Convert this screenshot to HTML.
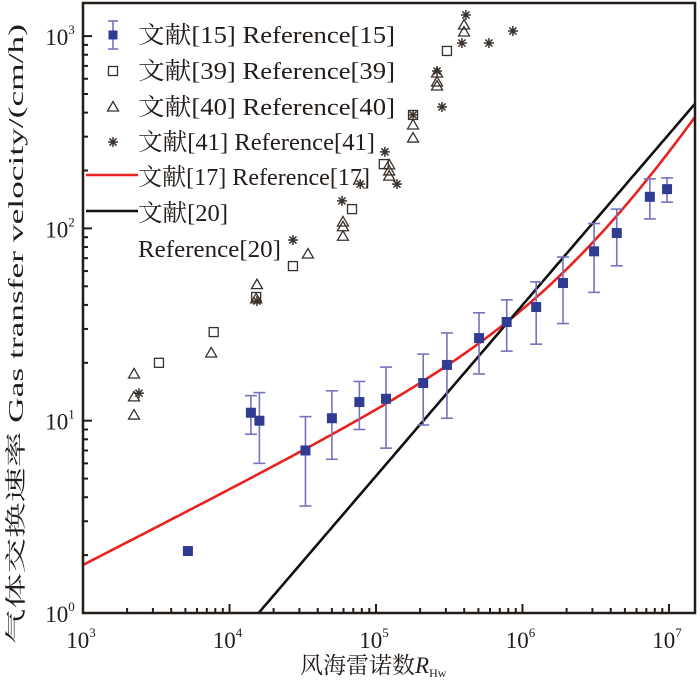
<!DOCTYPE html>
<html><head><meta charset="utf-8"><style>
html,body{margin:0;padding:0;background:#fff;overflow:hidden;width:700px;height:688px;}
svg{display:block;}
svg text{font-family:"Liberation Serif","Noto Serif CJK SC",serif;}
</style></head><body>
<svg id="chart" width="700" height="688" viewBox="0 0 700 688" xmlns="http://www.w3.org/2000/svg" overflow="hidden">
<g id="plot"></g>
</svg>
<script>
const ref15R=[5.2e3,1.4e4,1.6e4,3.3e4,5.0e4,7.7e4,1.17e5,2.1e5,3.05e5,5.05e5,7.8e5,1.24e6,1.89e6,3.08e6,4.4e6,7.4e6,9.7e6];
const ref15V=[2.1,11.0,10.0,7.0,10.3,12.5,13.0,15.7,19.5,26.9,32.6,39,52,76,94.6,146,160];
const ref15Lo=[2.1,8.5,6.0,3.6,6.3,9.0,7.2,9.5,10.3,17.5,23,25,32,46.5,63.9,112,137];
const ref15Hi=[2.1,13.5,14.0,10.5,14.3,16.0,19.0,22.2,28.6,36.4,42.5,52.7,71,106,126,181,183];
const ref39R=[3.3e3,7.8e3,1.52e4,2.71e4,6.86e4,1.13e5,1.79e5,3.05e5];
const ref39V=[20,28.9,44,63.7,126,216,389,837];
const ref40R=[2.23e3,2.23e3,2.23e3,7.5e3,1.54e4,1.52e4,3.43e4,5.95e4,5.95e4,5.95e4,1.23e5,1.23e5,1.23e5,1.79e5,1.79e5,2.61e5,2.61e5,2.61e5,3.99e5,3.99e5];
const ref40V=[17.5,13.3,10.7,22.5,51,43,73.6,108,102,91,214,199,187,345,295,643,577,550,1142,1050];
const ref41R=[2.41e3,1.54e4,2.71e4,5.86e4,7.8e4,1.15e5,1.39e5,1.79e5,2.61e5,2.82e5,4.11e5,3.86e5,5.9e5,8.6e5];
const ref41V=[13.9,41.9,87,139,170,250,170,389,658,428,1288,920,920,1063];
const xTickExp=[3,4,5,6,7];
const yTickExp=[0,1,2,3];
const legendLabels=["文献[15] Reference[15]","文献[39] Reference[39]","文献[40] Reference[40]","文献[41] Reference[41]","文献[17] Reference[17]","文献[20]","Reference[20]"];

const NS="http://www.w3.org/2000/svg";
const L=83,R=695,T=3,B=613;
const X=r=>L+(Math.log10(r)-3)*146.5;
const Y=v=>B-Math.log10(v)*192.3;
const plot=document.getElementById('plot');
function mk(tag,attrs,parent){const e=document.createElementNS(NS,tag);for(const k in attrs)e.setAttribute(k,attrs[k]);(parent||plot).appendChild(e);return e;}

const defs=mk('defs',{});
const cp=mk('clipPath',{id:'clip'},defs);
mk('rect',{x:L,y:T,width:R-L,height:B-T},cp);

const rMax=Math.pow(10,3+(R-L)/146.5);
function redK(r){return 0.12*Math.pow(r,0.39)+304*Math.pow(r/rMax,1.2);}
function blackK(r){return Math.pow(r/1.58e4,0.889);}
let dRed='',dBlack='';
for(let i=0;i<=200;i++){const lr=3+(Math.log10(rMax)-3)*i/200;const r=Math.pow(10,lr);
dRed+=(i?'L':'M')+X(r).toFixed(1)+','+Y(redK(r)).toFixed(1);
dBlack+=(i?'L':'M')+X(r).toFixed(1)+','+Y(blackK(r)).toFixed(1);}
const redLine=mk('path',{d:dRed,fill:'none',stroke:'#e8231f','stroke-width':2.6,'clip-path':'url(#clip)'});


const blackLine=mk('path',{d:dBlack,fill:'none',stroke:'#111','stroke-width':2.6,'clip-path':'url(#clip)'});



function square(x,y,name){const e=mk('rect',{x:x-4.5,y:y-4.5,width:9,height:9,fill:'none',stroke:'#3a302a','stroke-width':1.3});

}
function tri(x,y,name){const e=mk('path',{d:`M${x},${y-5.5}L${x+5.5},${y+4}L${x-5.5},${y+4}Z`,fill:'none',stroke:'#3a302a','stroke-width':1.3});

}
function star(x,y,name){const g=mk('g',{stroke:'#3a302a','stroke-width':1.5});


for(let a=0;a<4;a++){const t=a*Math.PI/4;mk('line',{x1:x-5*Math.cos(t),y1:y-5*Math.sin(t),x2:x+5*Math.cos(t),y2:y+5*Math.sin(t)},g);}}

ref39R.forEach((r,i)=>square(X(r),Y(ref39V[i]),'ref39-point'));
ref40R.forEach((r,i)=>tri(X(r),Y(ref40V[i]),'ref40-point'));
ref41R.forEach((r,i)=>star(X(r),Y(ref41V[i]),'ref41-point'));

ref15R.forEach((r,i)=>{const x=X(r);
if(ref15Hi[i]!==ref15Lo[i]){const g=mk('g',{stroke:'#7474bd','stroke-width':1.6});


mk('line',{x1:x,y1:Y(ref15Lo[i]),x2:x,y2:Y(ref15Hi[i])},g);
mk('line',{x1:x-6,y1:Y(ref15Lo[i]),x2:x+6,y2:Y(ref15Lo[i])},g);
mk('line',{x1:x-6,y1:Y(ref15Hi[i]),x2:x+6,y2:Y(ref15Hi[i])},g);}
const m=mk('rect',{x:x-5,y:Y(ref15V[i])-5,width:10,height:10,fill:'#2f3c92'});


});

const frame=mk('rect',{x:L,y:T,width:R-L,height:B-T,fill:'none',stroke:'#231c18','stroke-width':2.5});



const tg=mk('g',{stroke:'#231c18','stroke-width':2});


for(let e=3;e<7;e++)for(let k=1;k<10;k++){const x=X(k*Math.pow(10,e));const len=k===1?9:5;mk('line',{x1:x,y1:B,x2:x,y2:B-len},tg);}
mk('line',{x1:X(1e7),y1:B,x2:X(1e7),y2:B-9},tg);
for(let e=0;e<4;e++)for(let k=1;k<10;k++){const v=k*Math.pow(10,e);const y=Y(v);if(y<T)continue;const len=k===1?9:5;mk('line',{x1:L,y1:y,x2:L+len,y2:y},tg);}

xTickExp.forEach(e=>{const t=mk('text',{x:X(Math.pow(10,e))-2,y:648,'font-size':23,'text-anchor':'middle',fill:'#231c18'});


t.textContent='10';const s=mk('tspan',{'font-size':13,dy:-11},t);s.textContent=String(e);});
yTickExp.forEach(e=>{const t=mk('text',{x:60,y:Y(Math.pow(10,e))+9,'font-size':23,'text-anchor':'middle',fill:'#231c18'});


t.textContent='10';const s=mk('tspan',{'font-size':13,dy:-11},t);s.textContent=String(e);});

const xt=mk('text',{x:300,y:673,'font-size':23,fill:'#231c18'});


xt.textContent='风海雷诺数';
const xi=mk('tspan',{'font-style':'italic'},xt);xi.textContent='R';
const xs=mk('tspan',{'font-size':12,dy:4},xt);xs.textContent='Hw';
const yt=mk('text',{x:0,y:0,'font-size':21,fill:'#231c18','text-anchor':'middle',transform:'translate(23,334) rotate(-90)',textLength:620,lengthAdjust:'spacingAndGlyphs'});


yt.textContent='气体交换速率 Gas transfer velocity/(cm/h)';

const lg=mk('g',{});


const rowY=[35,71,107,142,177,213,249];
const ends=[395,395,395,375,370,228,281];
legendLabels.forEach((lab,i)=>{const t=mk('text',{x:138,y:rowY[i]+8,'font-size':24,fill:'#231c18',textLength:ends[i]-138,lengthAdjust:'spacingAndGlyphs'},lg);


t.textContent=lab;});
const lx=113;
const eb=mk('g',{stroke:'#7474bd','stroke-width':1.6},lg);


mk('line',{x1:lx,y1:rowY[0]-14,x2:lx,y2:rowY[0]+14},eb);mk('line',{x1:lx-5,y1:rowY[0]-14,x2:lx+5,y2:rowY[0]-14},eb);mk('line',{x1:lx-5,y1:rowY[0]+14,x2:lx+5,y2:rowY[0]+14},eb);
mk('rect',{x:lx-4.5,y:rowY[0]-4.5,width:9,height:9,fill:'#2f3c92',stroke:'none'},eb);
square(lx,rowY[1],'legend-ref39-marker');
tri(lx,rowY[2],'legend-ref40-marker');
star(lx,rowY[3],'legend-ref41-marker');
const l17=mk('line',{x1:86,y1:rowY[4]-2,x2:138,y2:rowY[4]-2,stroke:'#e8231f','stroke-width':2.6},lg);


const l20=mk('line',{x1:86,y1:rowY[5]-2,x2:138,y2:rowY[5]-2,stroke:'#111','stroke-width':2.6},lg);


</script>
</body></html>
